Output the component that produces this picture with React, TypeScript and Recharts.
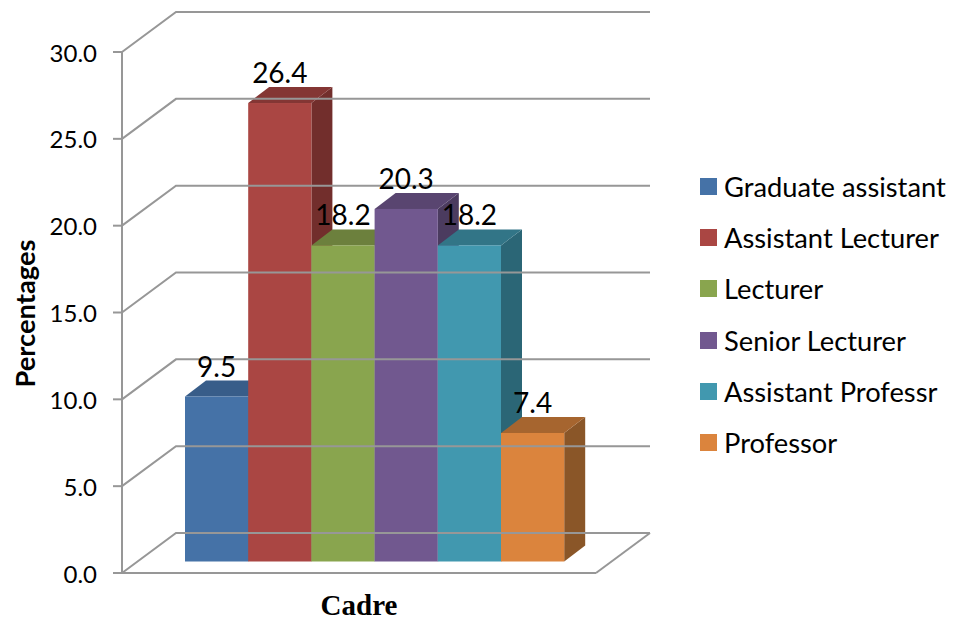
import React from "react";
import { Bar, BarChart, Legend, XAxis, YAxis } from "recharts";

const categories = ["Cadre"];
const seriesNames = [
  "Graduate assistant",
  "Assistant Lecturer",
  "Lecturer",
  "Senior Lecturer",
  "Assistant Professr",
  "Professor",
];
const seriesValues = [9.5, 26.4, 18.2, 20.3, 18.2, 7.4];
const yTicks = [0, 5, 10, 15, 20, 25, 30];

const FRONT_COLORS = ["#4572A7", "#AA4643", "#89A54E", "#71588F", "#4198AF", "#DB843D"];
const TOP_COLORS = ["#385D89", "#843634", "#6C803D", "#594570", "#327587", "#A6652F"];
const SIDE_COLORS = ["#2F4E73", "#722E2C", "#5A6B33", "#4B3B5F", "#2B6676", "#8A5628"];

const GRID = "#979797";
const SANS = "Lato, Carlito, sans-serif";
const SERIF = "'Liberation Serif', serif";

// fake 3d offsets
const WALL_DX = 54;
const WALL_DY = 40;
const WALL_W = 474;
const BAR_SHIFT_X = 16;
const BAR_SHIFT_Y = -11.5;
const BAR_DX = 21;
const BAR_DY = 16;

const data = categories.map((name) => {
  const row: any = { name };
  seriesNames.forEach((s, i) => {
    row[s] = seriesValues[i];
  });
  return row;
});

const renderTick = (props: any) => {
  const { x, y, payload } = props;
  const x0 = x + 25;
  const xb = x0 + WALL_DX;
  const yb = y - WALL_DY;
  return (
    <g>
      <path d={`M${x0},${y}L${xb},${yb}L${xb + WALL_W},${yb}`} stroke={GRID} strokeWidth={2} fill="none" />
      {payload.value === 0 && (
        <path d={`M${xb + WALL_W},${yb}L${xb + WALL_W - WALL_DX},${y}`} stroke={GRID} strokeWidth={2} fill="none" />
      )}
      <text x={x} y={y} dy={9.5} textAnchor="end" fontFamily={SANS} fontSize={24} fill="#000">
        {payload.value.toFixed(1)}
      </text>
    </g>
  );
};

const makeShape = (i: number) => (props: any) => {
  const { x, y, width, height } = props;
  const l = x + BAR_SHIFT_X;
  const r = l + width;
  const t = y + BAR_SHIFT_Y;
  const b = t + height;
  return (
    <g>
      <polygon
        points={`${r},${t} ${r + BAR_DX},${t - BAR_DY} ${r + BAR_DX},${b - BAR_DY} ${r},${b}`}
        fill={SIDE_COLORS[i]}
      />
      <polygon
        points={`${l},${t} ${l + BAR_DX},${t - BAR_DY} ${r + BAR_DX},${t - BAR_DY} ${r},${t}`}
        fill={TOP_COLORS[i]}
      />
      <rect x={l} y={t} width={width} height={height} fill={FRONT_COLORS[i]} />
    </g>
  );
};

const renderLabel = (props: any) => {
  const { x, y, width, value } = props;
  return (
    <text
      x={x + BAR_SHIFT_X + width / 2}
      y={y + BAR_SHIFT_Y - 20}
      textAnchor="middle"
      fontFamily={SANS}
      fontSize={28}
      fill="#000"
    >
      {value}
    </text>
  );
};

const renderLegend = (props: any) => (
  <div>
    {props.payload.map((entry: any) => (
      <div
        key={entry.value}
        style={{ display: "flex", alignItems: "center", height: 51.2, fontFamily: SANS, fontSize: 27.3, color: "#000", whiteSpace: "nowrap" }}
      >
        <span style={{ display: "inline-block", width: 17, height: 17, marginRight: 7, background: entry.color }} />
        {entry.value}
      </div>
    ))}
  </div>
);

export default function App() {
  return (
    <div style={{ position: "absolute", left: 0, top: 0 }}>
      <BarChart
        width={955}
        height={620}
        data={data}
        margin={{ top: 52, right: 104, bottom: 0, left: 0 }}
        barGap={0}
        barSize={63.2}
      >
        <YAxis
          width={122}
          domain={[0, 30]}
          ticks={yTicks}
          interval={0}
          tick={renderTick}
          tickSize={9}
          tickMargin={16}
          stroke={GRID}
          strokeWidth={2}
          label={{
            value: "Percentages",
            angle: -90,
            position: "insideLeft",
            fontFamily: SANS,
            fontWeight: "bold",
            fontSize: 27.3,
            fill: "#000",
            dx: 20,
            dy: 75,
          }}
        />
        <XAxis
          dataKey="name"
          height={47}
          tick={false}
          tickLine={false}
          stroke={GRID}
          strokeWidth={2}
          label={{
            value: "Cadre",
            position: "insideBottom",
            fontFamily: SERIF,
            fontWeight: "bold",
            fontSize: 29,
            fill: "#000",
            dy: 0,
          }}
        />
        <Legend
          layout="vertical"
          align="right"
          verticalAlign="middle"
          width={255}
          content={renderLegend}
          itemSorter={null}
          wrapperStyle={{ left: 700, top: 161, right: "auto", bottom: "auto" }}
        />
        {seriesNames.map((s, i) => (
          <Bar
            key={s}
            dataKey={s}
            name={s}
            fill={FRONT_COLORS[i]}
            isAnimationActive={false}
            shape={makeShape(i)}
            label={renderLabel}
          />
        ))}
      </BarChart>
    </div>
  );
}
